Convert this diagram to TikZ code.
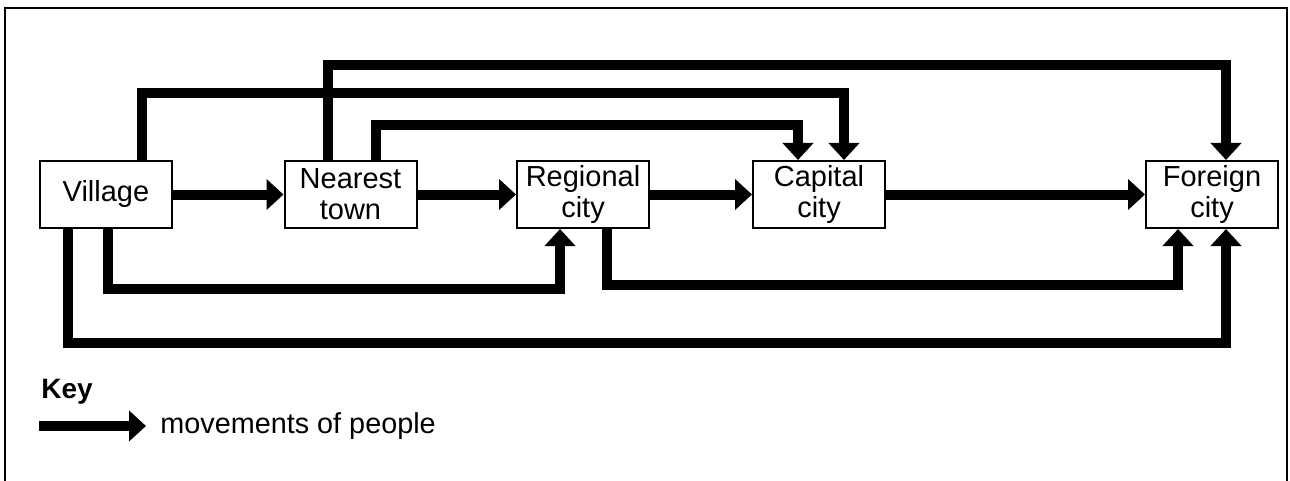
\documentclass[tikz,border=0pt]{standalone}
\usepackage{fontspec}
\setmainfont{Liberation Sans}
\usetikzlibrary{arrows.meta}
\begin{document}
\begin{tikzpicture}[x=0.5pt,y=-0.5pt,
  place/.style={draw,line width=1pt,minimum width=66pt,minimum height=33.5pt,inner sep=0pt,align=center,font=\fontsize{14.5}{15.5}\selectfont},
  flow/.style={line width=5pt,-{Triangle[length=8.5pt,width=15pt]}}]
\useasboundingbox (0,0) rectangle (1290,481);
\draw[line width=1.25pt](5,481)--(5,8)--(1287,8)--(1287,481);
\node[place] (vil) at(106,194.5) {Village};
\node[place] (town) at(350.5,194.5) {Nearest\\town};
\node[place] (reg) at(583,194.5) {Regional\\city};
\node[place] (cap) at(819,194.5) {Capital\\city};
\node[place] (abr) at(1212,194.5) {Foreign\\city};
\draw[flow](vil)--(town);
\draw[flow](town)--(reg);
\draw[flow](reg)--(cap);
\draw[flow](cap)--(abr);
% routes above the row
\draw[flow]([xshift=-11.25pt]town.north)--++(0,-95)-|([xshift=7pt]abr.north);
\draw[flow]([xshift=18pt]vil.north)--++(0,-67)-|([xshift=12.5pt]cap.north);
\draw[flow]([xshift=12.75pt]town.north)--++(0,-35)-|([xshift=-10.5pt]cap.north);
% routes below the row
\draw[flow]([xshift=0.75pt]vil.south)--++(0,60)-|([xshift=-11.5pt]reg.south);
\draw[flow]([xshift=12pt]reg.south)--++(0,56)-|([xshift=-17pt]abr.south);
\draw[flow]([xshift=-19pt]vil.south)--++(0,114)-|([xshift=7pt]abr.south);
% key
\node[anchor=base west,inner sep=0pt,font=\fontsize{14}{15}\selectfont\bfseries] (key) at(41,398) {Key};
\coordinate (k1) at(39,426);
\coordinate (k2) at(146,426);
\draw[flow](k1)--(k2);
\node[anchor=base west,inner sep=0pt,font=\fontsize{14.4}{15}\selectfont] (keytxt) at(160,433) {movements of people};
\end{tikzpicture}
\end{document}
